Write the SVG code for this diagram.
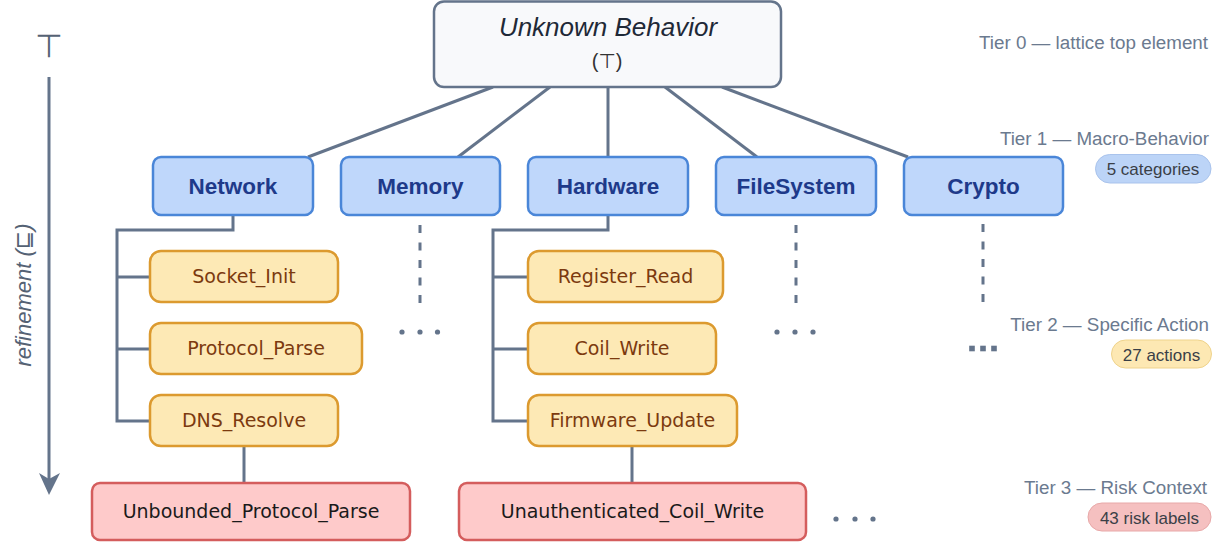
<svg xmlns="http://www.w3.org/2000/svg" width="1220" height="546" viewBox="0 0 1220 546">
  <style>
    .edge { fill: none; stroke: #64748b; stroke-width: 3; }
    .stub { fill: none; stroke: #64748b; stroke-width: 3; stroke-dasharray: 8 9.5; }
    .dot { fill: #64748b; }
    .top rect { fill: #f8f9fb; stroke: #64748b; stroke-width: 2.5; }
    .macro rect { fill: #bfd7fb; stroke: #4a86d8; stroke-width: 2.5; }
    .macro text { font-family: "Liberation Sans", Arial, sans-serif; font-weight: bold; font-size: 22.5px; fill: #1e3a8a; text-anchor: middle; }
    .action rect { fill: #fde9b5; stroke: #dc9a2f; stroke-width: 2.5; }
    .action text { font-family: "Comic Sans MS", "DejaVu Sans", sans-serif; font-size: 19px; fill: #7c3a0f; text-anchor: middle; }
    .risk rect { fill: #fecaca; stroke: #d45d5d; stroke-width: 2.5; }
    .risk text { font-family: "Comic Sans MS", "DejaVu Sans", sans-serif; font-size: 19px; fill: #1a1a1a; text-anchor: middle; }
    .tier { font-family: "Liberation Sans", Arial, sans-serif; font-size: 18.8px; fill: #6b7a8f; text-anchor: end; }
    .pill text { font-family: "Liberation Sans", Arial, sans-serif; font-size: 17px; fill: #3a3f47; text-anchor: middle; }
    .axis { font-family: "Liberation Sans", "DejaVu Sans", sans-serif; fill: #556274; }
  </style>

  <!-- refinement axis -->
  <g id="axis">
    <text class="axis" x="49" y="57" font-family="DejaVu Sans, sans-serif" font-size="32" text-anchor="middle" fill="#64748b">⊤</text>
    <line x1="49" y1="77" x2="49" y2="480" stroke="#64748b" stroke-width="3"/>
    <polygon points="39,473 49,495 60,473 49,479" fill="#64748b"/>
    <text class="axis" transform="translate(31,295) rotate(-90)" font-size="22" font-style="italic" text-anchor="middle">refinement (⊑)</text>
  </g>

  <!-- connectors -->
  <g id="connectors">
    <line class="edge" x1="493" y1="87" x2="308" y2="157"/>
    <line class="edge" x1="550" y1="87" x2="458" y2="157"/>
    <line class="edge" x1="608" y1="87" x2="608" y2="157"/>
    <line class="edge" x1="665" y1="87" x2="757" y2="157"/>
    <line class="edge" x1="722" y1="87" x2="908" y2="157"/>

    <!-- Network branch -->
    <polyline class="edge" points="233,215 233,230 117,230 117,421 150,421"/>
    <line class="edge" x1="117" y1="277" x2="150" y2="277"/>
    <line class="edge" x1="117" y1="349" x2="150" y2="349"/>
    <line class="edge" x1="244" y1="446" x2="244" y2="483"/>

    <!-- Hardware branch -->
    <polyline class="edge" points="608,215 608,230 493,230 493,421 528,421"/>
    <line class="edge" x1="493" y1="277" x2="528" y2="277"/>
    <line class="edge" x1="493" y1="349" x2="528" y2="349"/>
    <line class="edge" x1="632" y1="446" x2="632" y2="483"/>

    <!-- elided branches -->
    <line class="stub" x1="420" y1="225" x2="420" y2="304"/>
    <line class="stub" x1="796" y1="225" x2="796" y2="304"/>
    <line class="stub" x1="983" y1="224" x2="983" y2="303"/>
  </g>

  <!-- ellipsis markers -->
  <g id="ellipses">
    <circle class="dot" cx="402" cy="332" r="2.6"/>
    <circle class="dot" cx="420" cy="332" r="2.6"/>
    <circle class="dot" cx="437.5" cy="332" r="2.6"/>
    <circle class="dot" cx="777" cy="332" r="2.6"/>
    <circle class="dot" cx="795" cy="332" r="2.6"/>
    <circle class="dot" cx="813" cy="332" r="2.6"/>
    <rect class="dot" x="969.2" y="345.7" width="5.6" height="5.6"/>
    <rect class="dot" x="980.2" y="345.7" width="5.6" height="5.6"/>
    <rect class="dot" x="991.2" y="345.7" width="5.6" height="5.6"/>
    <circle class="dot" cx="836" cy="519" r="2.6"/>
    <circle class="dot" cx="855" cy="519" r="2.6"/>
    <circle class="dot" cx="873" cy="519" r="2.6"/>
  </g>

  <!-- Tier 0 -->
  <g id="unknown-behavior" class="top">
    <rect x="434" y="1.5" width="347" height="85.5" rx="10"/>
    <text x="608" y="36" font-family="Liberation Sans, Arial, sans-serif" font-size="26" font-style="italic" fill="#1f2937" text-anchor="middle">Unknown Behavior</text>
    <text x="607" y="68" font-family="Liberation Sans, DejaVu Sans, sans-serif" font-size="20" fill="#333" text-anchor="middle">(⊤)</text>
  </g>

  <!-- Tier 1 -->
  <g id="network" class="macro"><rect x="153" y="157" width="160" height="58" rx="8"/><text x="233" y="194">Network</text></g>
  <g id="memory" class="macro"><rect x="341" y="157" width="159" height="58" rx="8"/><text x="420.5" y="194">Memory</text></g>
  <g id="hardware" class="macro"><rect x="528" y="157" width="160" height="58" rx="8"/><text x="608" y="194">Hardware</text></g>
  <g id="filesystem" class="macro"><rect x="716" y="157" width="160" height="58" rx="8"/><text x="796" y="194">FileSystem</text></g>
  <g id="crypto" class="macro"><rect x="904" y="157" width="159" height="58" rx="8"/><text x="983.5" y="194">Crypto</text></g>

  <!-- Tier 2 -->
  <g id="socket-init" class="action"><rect x="150" y="251" width="188" height="51" rx="11"/><text x="244" y="283">Socket_Init</text></g>
  <g id="protocol-parse" class="action"><rect x="150" y="323" width="212" height="51" rx="11"/><text x="256" y="355">Protocol_Parse</text></g>
  <g id="dns-resolve" class="action"><rect x="150" y="395" width="188" height="51" rx="11"/><text x="244" y="427">DNS_Resolve</text></g>
  <g id="register-read" class="action"><rect x="528" y="251" width="195" height="51" rx="11"/><text x="625.5" y="283">Register_Read</text></g>
  <g id="coil-write" class="action"><rect x="528" y="323" width="188" height="51" rx="11"/><text x="622" y="355">Coil_Write</text></g>
  <g id="firmware-update" class="action"><rect x="528" y="395" width="209" height="51" rx="11"/><text x="632.5" y="427">Firmware_Update</text></g>

  <!-- Tier 3 -->
  <g id="unbounded-protocol-parse" class="risk"><rect x="92" y="483" width="318" height="57" rx="8"/><text x="251" y="518">Unbounded_Protocol_Parse</text></g>
  <g id="unauthenticated-coil-write" class="risk"><rect x="459" y="483" width="347" height="57" rx="8"/><text x="632.5" y="518">Unauthenticated_Coil_Write</text></g>

  <!-- tier legend -->
  <g id="legend">
    <text class="tier" x="1208" y="49">Tier 0 — lattice top element</text>
    <text class="tier" x="1209" y="145">Tier 1 — Macro-Behavior</text>
    <g class="pill"><rect x="1095.5" y="154.5" width="115.5" height="28.5" rx="14.25" fill="#bcd4f7" stroke="#a9c3ec"/><text x="1153" y="175">5 categories</text></g>
    <text class="tier" x="1209" y="331">Tier 2 — Specific Action</text>
    <g class="pill"><rect x="1111.5" y="340" width="100" height="28" rx="14" fill="#fde8b3" stroke="#efd38c"/><text x="1161.5" y="360.5">27 actions</text></g>
    <text class="tier" x="1207" y="494">Tier 3 — Risk Context</text>
    <g class="pill"><rect x="1088" y="503" width="123" height="28" rx="14" fill="#f5c0c0" stroke="#e8a8a8"/><text x="1149.5" y="523.5">43 risk labels</text></g>
  </g>
</svg>
